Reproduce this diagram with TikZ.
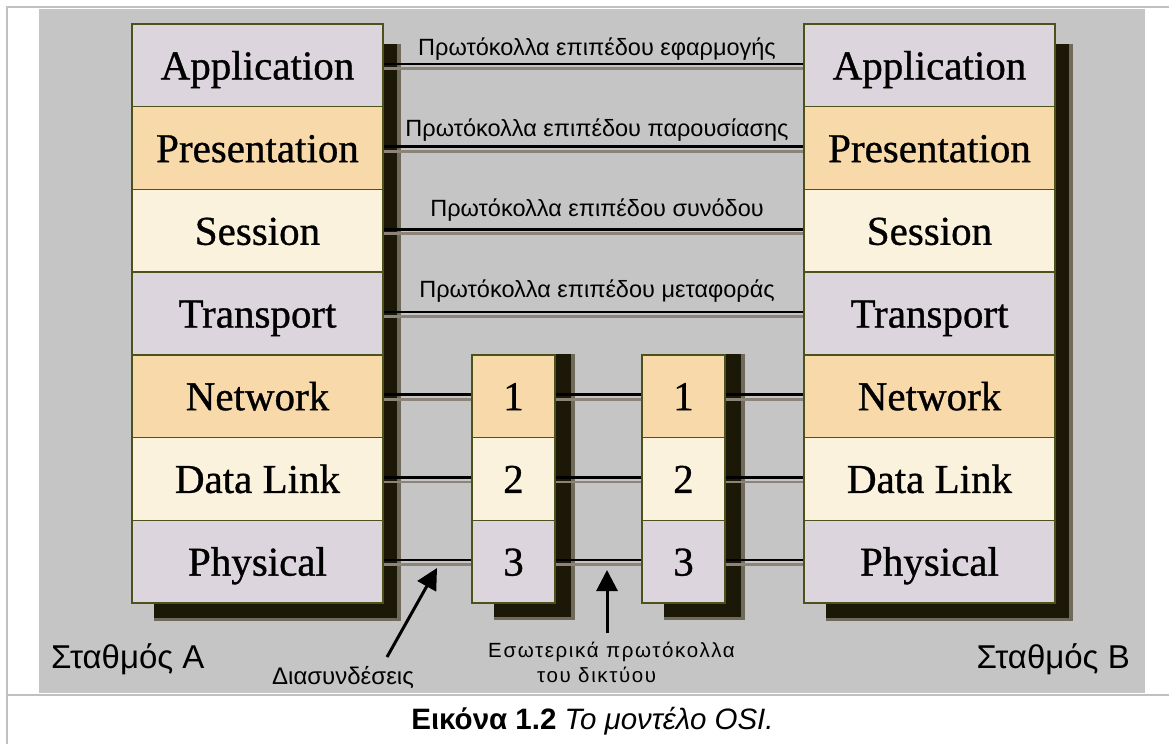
\documentclass[tikz,border=0pt]{standalone}
\usepackage{fontspec}
\setmainfont{Liberation Sans}
\newfontfamily\layerfont[FakeBold=0.8]{Liberation Serif}
\newfontfamily\spacedfont[LetterSpace=8]{Liberation Sans}
\usetikzlibrary{calc,arrows.meta}

\definecolor{panel}{RGB}{197,197,197}
\definecolor{frameline}{RGB}{192,192,192}
\definecolor{lav}{RGB}{221,213,221}
\definecolor{peach}{RGB}{248,217,170}
\definecolor{cream}{RGB}{250,242,220}
\definecolor{boxline}{RGB}{76,82,26}
\definecolor{shadowc}{RGB}{28,24,8}
\definecolor{shadowsoft}{RGB}{112,106,92}
\definecolor{linkgray}{RGB}{140,132,120}

\pgfdeclarelayer{back}
\pgfdeclarelayer{shade}
\pgfsetlayers{back,shade,main}

\begin{document}
\begin{tikzpicture}[x=1pt,y=-1pt,
  layer/.style={draw=boxline, line width=1.4pt, inner sep=0pt,
    minimum width=251pt, minimum height=82.7pt,
    text height=28pt, text depth=0pt,
    font=\layerfont\fontsize{41}{41}\selectfont},
  relay/.style={layer, minimum width=83pt},
  link/.style={
    preaction={draw=black, line width=2.7pt, transform canvas={yshift=1.5pt}},
    postaction={draw=linkgray, line width=2.8pt, transform canvas={yshift=-3pt}}},
  protolabel/.style={anchor=base, inner sep=0pt, font=\fontsize{23.5}{23.5}\selectfont},
  station/.style={inner sep=0pt, font=\fontsize{33}{33}\selectfont},
  note/.style={inner sep=0pt, anchor=base west},
  pointer/.style={line width=3pt, -{Triangle[length=21pt,width=21pt]}}
]
\useasboundingbox (0,0) rectangle (1169,744);

% frame and grey panel
\begin{pgfonlayer}{back}
  \fill[white] (0,0) rectangle (1169,744);
  \fill[panel] (39,9) rectangle (1145,693);
  \draw[frameline, line width=2pt] (7,744) -- (7,7) -- (1169,7);
  \draw[frameline, line width=2pt] (7,695) -- (1169,695);
\end{pgfonlayer}

% station A
\node[layer, fill=lav]   (LA) at (257.5, 65.4) {Application};
\node[layer, fill=peach] (LB) at (257.5,148.1) {Presentation};
\node[layer, fill=cream] (LC) at (257.5,230.8) {Session};
\node[layer, fill=lav]   (LD) at (257.5,313.5) {Transport};
\node[layer, fill=peach] (LE) at (257.5,396.2) {Network};
\node[layer, fill=cream] (LF) at (257.5,478.9) {Data Link};
\node[layer, fill=lav]   (LG) at (257.5,561.6) {Physical};

% station B
\node[layer, fill=lav]   (RA) at (929.5, 65.4) {Application};
\node[layer, fill=peach] (RB) at (929.5,148.1) {Presentation};
\node[layer, fill=cream] (RC) at (929.5,230.8) {Session};
\node[layer, fill=lav]   (RD) at (929.5,313.5) {Transport};
\node[layer, fill=peach] (RE) at (929.5,396.2) {Network};
\node[layer, fill=cream] (RF) at (929.5,478.9) {Data Link};
\node[layer, fill=lav]   (RG) at (929.5,561.6) {Physical};

% intermediate network nodes
\node[relay, fill=peach] (MA) at (513.5,396.2) {1};
\node[relay, fill=cream] (MB) at (513.5,478.9) {2};
\node[relay, fill=lav]   (MC) at (513.5,561.6) {3};
\node[relay, fill=peach] (NA) at (683.5,396.2) {1};
\node[relay, fill=cream] (NB) at (683.5,478.9) {2};
\node[relay, fill=lav]   (NC) at (683.5,561.6) {3};

% drop shadows behind the stacks
\begin{pgfonlayer}{shade}
  \foreach \top/\bot in {LA/LG, RA/RG} {
    \fill[shadowsoft] ($(\top.north west)+(23,21)$) rectangle ($(\bot.south east)+(17,17)$);
    \fill[shadowc]    ($(\top.north west)+(23,21)$) rectangle ($(\bot.south east)+(13,14)$);
  }
  \foreach \top/\bot in {MA/MC, NA/NC} {
    \fill[shadowsoft] ($(\top.north west)+(23,0)$) rectangle ($(\bot.south east)+(19,16)$);
    \fill[shadowc]    ($(\top.north west)+(23,0)$) rectangle ($(\bot.south east)+(15,13)$);
  }
\end{pgfonlayer}

% peer protocol links
\path[link] (LA.east) -- (RA.west);
\path[link] (LB.east) -- (RB.west);
\path[link] (LC.east) -- (RC.west);
\path[link] (LD.east) -- (RD.west);
\path[link] (LE.east) -- (MA.west);
\path[link] (LF.east) -- (MB.west);
\path[link] (LG.east) -- (MC.west);
\path[link] (MA.east) -- (NA.west);
\path[link] (MB.east) -- (NB.west);
\path[link] (MC.east) -- (NC.west);
\path[link] (NA.east) -- (RE.west);
\path[link] (NB.east) -- (RF.west);
\path[link] (NC.east) -- (RG.west);

% link labels
\node[protolabel] (pA) at (597,55)  {Πρωτόκολλα επιπέδου εφαρμογής};
\node[protolabel] (pB) at (597,136) {Πρωτόκολλα επιπέδου παρουσίασης};
\node[protolabel] (pC) at (597,216) {Πρωτόκολλα επιπέδου συνόδου};
\node[protolabel] (pD) at (597,297) {Πρωτόκολλα επιπέδου μεταφοράς};

% station names
\node[station, anchor=base west] (sA) at (51,668)   {Σταθμός A};
\node[station, anchor=base east] (sB) at (1130,668) {Σταθμός B};

% annotations and pointers
\node[note, font=\fontsize{24}{24}\selectfont] (iface) at (272,684) {Διασυνδέσεις};
\node[note, font=\spacedfont\fontsize{20.5}{20.5}\selectfont] (inner1) at (488,657) {Εσωτερικά πρωτόκολλα};
\node[note, font=\spacedfont\fontsize{20.5}{20.5}\selectfont] (inner2) at (537,682) {του δικτύου};

\coordinate (ifTail) at (387,657);
\coordinate (ifTip)  at (437,568);
\coordinate (inTail) at (607,633);
\coordinate (inTip)  at (607,570);
\draw[pointer] (ifTail) -- (ifTip);
\draw[pointer] (inTail) -- (inTip);

% caption
\node[anchor=base, inner sep=0pt, font=\fontsize{29.5}{29.5}\selectfont] (cap) at (592.5,729)
  {{\bfseries Εικόνα 1.2} {\itshape Το μοντέλο OSI.}};
\end{tikzpicture}
\end{document}
